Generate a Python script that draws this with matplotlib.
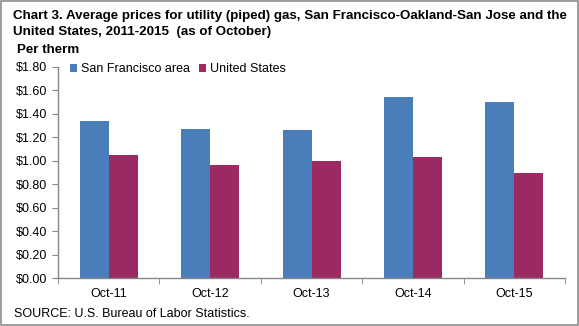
import numpy as np
import matplotlib
matplotlib.use('Agg')
import matplotlib.pyplot as plt
from matplotlib.patches import Rectangle
from matplotlib.ticker import FixedLocator, FuncFormatter

plt.rcParams['font.family'] = ['Liberation Sans', 'DejaVu Sans']

# Average price per therm, October of each year
periods = ['Oct-11', 'Oct-12', 'Oct-13', 'Oct-14', 'Oct-15']
sf_area = [1.34, 1.27, 1.26, 1.54, 1.50]
us_avg = [1.05, 0.96, 1.00, 1.03, 0.90]
series_names = ['San Francisco area', 'United States']

blue = '#4a7ebb'
plum = '#9b2a62'
axis_gray = '#868686'

W, H = 579, 326
fig = plt.figure(figsize=(W / 100, H / 100), dpi=100)
ax = fig.add_axes([0.1002, 0.1463, 0.8756, 0.6491])

x = np.arange(len(periods))
w = 0.286
ax.bar(x - w / 2, sf_area, width=w, color=blue, label=series_names[0])
ax.bar(x + w / 2, us_avg, width=w, color=plum, label=series_names[1])

ax.set_xlim(-0.5, len(periods) - 0.5)
ax.set_ylim(0, 1.8)
ax.set_yticks(np.arange(0, 1.81, 0.2))
ax.yaxis.set_major_formatter(FuncFormatter(lambda v, p: '${:.2f}'.format(v)))
ax.set_xticks(x)
ax.set_xticklabels(periods)
ax.xaxis.set_minor_locator(FixedLocator(np.arange(-0.5, len(periods), 1.0)))
ax.tick_params(axis='x', which='major', length=0, pad=7, labelsize=9)
ax.tick_params(axis='x', which='minor', length=4, color=axis_gray, direction='out')
ax.tick_params(axis='y', length=4, color=axis_gray, direction='out', labelsize=9, pad=4)

for side in ['top', 'right']:
    ax.spines[side].set_visible(False)
for side in ['left', 'bottom']:
    ax.spines[side].set_color(axis_gray)
    ax.spines[side].set_linewidth(1.0)

ax.legend(loc='upper left', bbox_to_anchor=(0.013, 1.04), ncol=2, frameon=False,
          fontsize=9, handlelength=0.6, handleheight=0.6, handletextpad=0.3,
          columnspacing=0.7, borderaxespad=0)

# title lines placed by baseline, in pixels from the top
fig.text(13 / W, 1 - 19 / H,
         'Chart 3. Average prices for utility (piped) gas, San Francisco-Oakland-San Jose and the',
         fontsize=9.6, fontweight='bold', va='baseline', ha='left')
fig.text(13 / W, 1 - 35 / H, 'United States, 2011-2015  (as of October)',
         fontsize=9.6, fontweight='bold', va='baseline', ha='left')
fig.text(17 / W, 1 - 53 / H, 'Per therm', fontsize=9.6, fontweight='bold', va='baseline', ha='left')
fig.text(14 / W, 1 - 317 / H, 'SOURCE: U.S. Bureau of Labor Statistics.', fontsize=9,
         va='baseline', ha='left')

fig.patches.append(Rectangle((0.001, 0.002), 0.997, 0.995, transform=fig.transFigure,
                             fill=False, edgecolor='#8c8c8c', linewidth=1.2))

fig.savefig('out.png', dpi=100)
